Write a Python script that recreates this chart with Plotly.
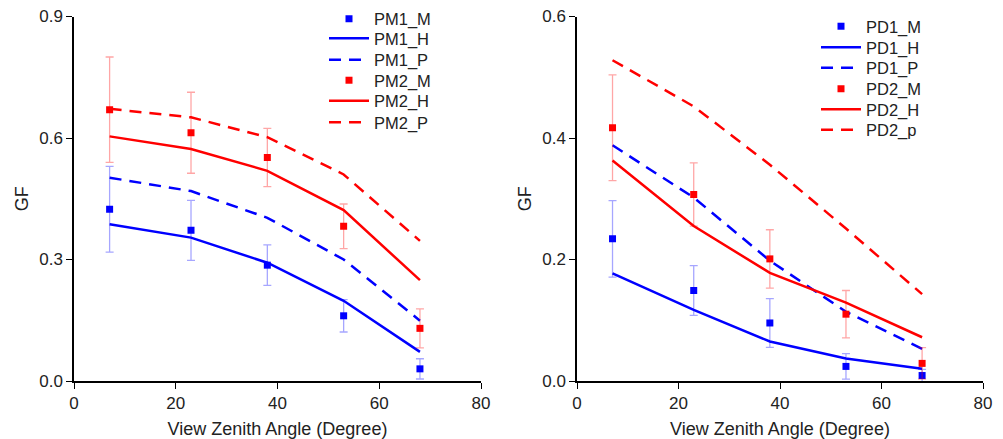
import plotly.graph_objects as go

angles = [7, 23, 38, 53, 68]

# Left panel (PM)
pm1_m = [0.424, 0.372, 0.286, 0.161, 0.030]
pm1_m_err = [0.106, 0.074, 0.050, 0.040, 0.025]
pm1_h = [0.387, 0.354, 0.292, 0.198, 0.072]
pm1_p = [0.502, 0.469, 0.403, 0.300, 0.149]
pm2_m = [0.670, 0.613, 0.552, 0.382, 0.130]
pm2_m_err = [0.130, 0.100, 0.072, 0.055, 0.048]
pm2_h = [0.604, 0.573, 0.519, 0.422, 0.249]
pm2_p = [0.672, 0.651, 0.602, 0.510, 0.346]

# Right panel (PD)
pd1_m = [0.234, 0.149, 0.0955, 0.024, 0.009]
pd1_m_err = [0.063, 0.041, 0.040, 0.021, 0.010]
pd1_h = [0.177, 0.117, 0.065, 0.037, 0.020]
pd1_p = [0.388, 0.302, 0.198, 0.114, 0.053]
pd2_m = [0.417, 0.307, 0.201, 0.110, 0.029]
pd2_m_err = [0.087, 0.052, 0.048, 0.039, 0.026]
pd2_h = [0.363, 0.255, 0.178, 0.129, 0.072]
pd2_p = [0.528, 0.452, 0.356, 0.251, 0.143]

BLUE = "#0000FF"
RED = "#FF0000"
BLUE_E = "rgba(0,0,255,0.35)"
RED_E = "rgba(255,0,0,0.35)"
DASH = "12px,8px"
FONT = "Liberation Sans, Arial, sans-serif"
TXT = "#222222"

W, H = 1003, 439

fig = go.Figure()
legend_layout = {}
leg_counter = [0]

def new_legend(x_px, y_px):
    leg_counter[0] += 1
    n = leg_counter[0]
    key = "legend" if n == 1 else f"legend{n}"
    legend_layout[key] = dict(x=x_px / W, y=1 - y_px / H, xanchor="left", yanchor="middle",
                              bgcolor="rgba(0,0,0,0)", borderwidth=0, visible=True,
                              font=dict(family=FONT, size=16.5, color=TXT),
                              tracegroupgap=0, itemwidth=40)
    return key

def add_group(xa, ya, names, m, merr, h, p, col, ecol, leg_x, leg_ys):
    fig.add_trace(go.Scatter(x=angles, y=m, mode="markers", name=names[0], showlegend=True,
                             marker=dict(symbol="square", size=7, color=col),
                             error_y=dict(type="data", array=merr, visible=True,
                                          color=ecol, thickness=1.3, width=4),
                             xaxis=xa, yaxis=ya, legend=new_legend(leg_x, leg_ys[0])))
    fig.add_trace(go.Scatter(x=angles, y=h, mode="lines", name=names[1], showlegend=True,
                             line=dict(color=col, width=2.5),
                             xaxis=xa, yaxis=ya, legend=new_legend(leg_x, leg_ys[1])))
    fig.add_trace(go.Scatter(x=angles, y=p, mode="lines", name=names[2], showlegend=True,
                             line=dict(color=col, width=2.5, dash=DASH),
                             xaxis=xa, yaxis=ya, legend=new_legend(leg_x, leg_ys[2])))

add_group("x", "y", ["PM1_M", "PM1_H", "PM1_P"], pm1_m, pm1_m_err, pm1_h, pm1_p,
          BLUE, BLUE_E, 324, [19, 38.5, 60])
add_group("x", "y", ["PM2_M", "PM2_H", "PM2_P"], pm2_m, pm2_m_err, pm2_h, pm2_p,
          RED, RED_E, 324, [80.5, 101, 122.5])
add_group("x2", "y2", ["PD1_M", "PD1_H", "PD1_P"], pd1_m, pd1_m_err, pd1_h, pd1_p,
          BLUE, BLUE_E, 816, [26.5, 47.5, 68])
add_group("x2", "y2", ["PD2_M", "PD2_H", "PD2_p"], pd2_m, pd2_m_err, pd2_h, pd2_p,
          RED, RED_E, 816, [89, 109.5, 130])

ydom = [(H - 381) / H, (H - 16.5) / H]

axis_common = dict(showline=True, linecolor="black", linewidth=1.5, ticks="outside",
                   ticklen=6, tickwidth=1.3, tickcolor="black", showgrid=False,
                   zeroline=False, mirror=False, automargin=False,
                   tickfont=dict(family=FONT, size=17, color=TXT))

def xtitle():
    return dict(text="View Zenith Angle (Degree)", standoff=10,
                font=dict(family=FONT, size=18, color=TXT))

def ytitle():
    return dict(text="GF", standoff=6, font=dict(family=FONT, size=18, color=TXT))

fig.update_layout(
    width=W, height=H,
    margin=dict(l=0, r=0, t=0, b=0),
    showlegend=True,
    plot_bgcolor="white", paper_bgcolor="white",
    font=dict(family=FONT, size=16, color=TXT),
    xaxis=dict(domain=[74 / W, 481 / W], range=[0, 80], tickvals=[0, 20, 40, 60, 80],
               title=xtitle(), anchor="y", **axis_common),
    yaxis=dict(domain=ydom, range=[0, 0.9], tickvals=[0, 0.3, 0.6, 0.9],
               tickformat=".1f", title=ytitle(), anchor="x", **axis_common),
    xaxis2=dict(domain=[577 / W, 983 / W], range=[0, 80], tickvals=[0, 20, 40, 60, 80],
                title=xtitle(), anchor="y2", **axis_common),
    yaxis2=dict(domain=ydom, range=[0, 0.6], tickvals=[0, 0.2, 0.4, 0.6],
                tickformat=".1f", title=ytitle(), anchor="x2", **axis_common),
    **legend_layout,
)

fig.write_html("out.html", config={"displayModeBar": False},
               post_script="document.body.style.margin='0';")
